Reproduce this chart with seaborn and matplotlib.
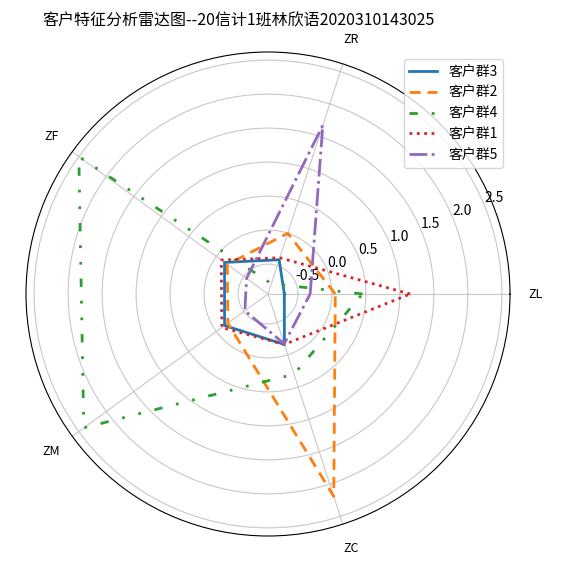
import numpy as np
import pandas as pd
import matplotlib
matplotlib.use("Agg")
import matplotlib.pyplot as plt
import seaborn as sns

plt.rcParams["font.family"] = ["Noto Sans CJK SC", "DejaVu Sans"]
plt.rcParams["axes.unicode_minus"] = False

# ── 数据：各客户群的 LRFMC 标准化聚类中心 ─────────────────────────────────
features = ["ZL", "ZR", "ZF", "ZM", "ZC"]
group_names = ["客户群3", "客户群2", "客户群4", "客户群1", "客户群5"]
group3 = [-0.70, -0.41, -0.15, -0.15, -0.16]
group2 = [0.05, 0.00, -0.20, -0.21, 2.19]
group4 = [0.45, -0.78, 2.50, 2.41, 0.30]
group1 = [1.15, -0.38, -0.09, -0.10, -0.16]
group5 = [-0.32, 1.67, -0.55, -0.52, -0.17]
r_ticks = [-0.5, 0.0, 0.5, 1.0, 1.5, 2.0, 2.5]

title = "客户特征分析雷达图--20信计1班林欣语2020310143025"

# ── 样式 ─────────────────────────────────────────────────────────────────
palette = sns.color_palette("tab10")
styles = [
    ("-", palette[0]),
    ((0, (4, 2.5)), palette[1]),
    ((0, (3, 5, 1, 5, 1, 5)), palette[2]),
    (":", palette[3]),
    ("-.", palette[4]),
]

angles = np.linspace(0, 2 * np.pi, len(features), endpoint=False)
angles_closed = np.concatenate([angles, angles[:1]])

fig = plt.figure(figsize=(5.86, 5.66), dpi=100)
ax = fig.add_axes([26 / 586, 1 - 536 / 566, 484 / 586, 484 / 566], polar=True)

for name, vals, (ls, col) in zip(group_names, [group3, group2, group4, group1, group5], styles):
    closed = list(vals) + [vals[0]]
    df = pd.DataFrame({"theta": angles_closed, "r": closed})
    sns.lineplot(data=df, x="theta", y="r", ax=ax, sort=False, estimator=None,
                 color=col, linestyle=ls, linewidth=2, label=name)

ax.set_thetagrids(np.degrees(angles), features, fontsize=9)
ax.tick_params(axis="x", pad=8)
ax.set_rlim(-0.94, 2.62)
ax.set_rticks(r_ticks)
ax.set_yticklabels([f"{t:.1f}" for t in r_ticks], fontsize=10)
ax.set_xlabel("")
ax.set_ylabel("")
ax.grid(True, color="#c8c8c8", linewidth=0.8)
ax.legend(loc="upper right", fontsize=10)

fig.text(239 / 586, 1 - 21 / 566, title, ha="center", va="center", fontsize=11.5)

fig.savefig("out.png", dpi=100)
